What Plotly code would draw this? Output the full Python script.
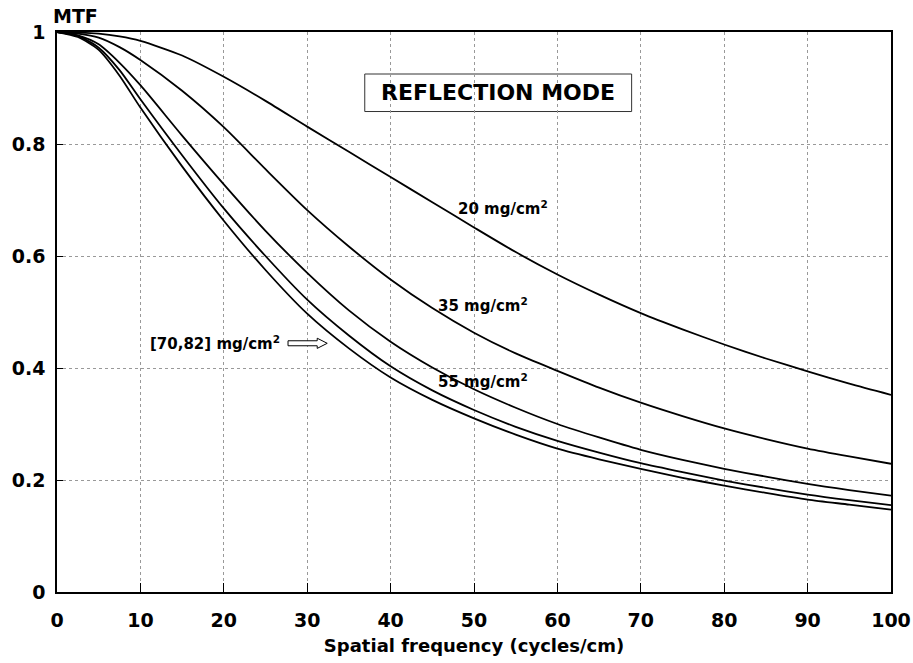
import plotly.graph_objects as go

# Spatial frequency (cycles/cm)
freq = [0, 2.5, 5, 7.5, 10, 15, 20, 25, 30, 35, 40, 45, 50, 55, 60, 65, 70, 75, 80, 85, 90, 95, 100]

# MTF values, one list per coating weight
mtf_20 = [1.0, 0.999, 0.997, 0.992, 0.984, 0.958, 0.920, 0.877, 0.831, 0.786, 0.741, 0.696, 0.651,
          0.607, 0.567, 0.531, 0.498, 0.469, 0.442, 0.417, 0.394, 0.372, 0.352]
mtf_35 = [1.0, 0.997, 0.990, 0.973, 0.950, 0.895, 0.830, 0.755, 0.682, 0.617, 0.558, 0.507, 0.463,
          0.426, 0.395, 0.365, 0.338, 0.314, 0.292, 0.273, 0.256, 0.242, 0.229]
mtf_55 = [1.0, 0.994, 0.978, 0.945, 0.905, 0.815, 0.728, 0.645, 0.570, 0.503, 0.447, 0.401, 0.362,
          0.329, 0.300, 0.276, 0.254, 0.236, 0.220, 0.206, 0.193, 0.182, 0.172]
mtf_70 = [1.0, 0.993, 0.972, 0.932, 0.880, 0.780, 0.685, 0.600, 0.522, 0.458, 0.403, 0.360, 0.325,
          0.295, 0.270, 0.249, 0.230, 0.214, 0.199, 0.186, 0.174, 0.164, 0.155]
mtf_82 = [1.0, 0.991, 0.968, 0.922, 0.865, 0.760, 0.663, 0.575, 0.497, 0.435, 0.383, 0.343, 0.310,
          0.281, 0.256, 0.237, 0.220, 0.204, 0.190, 0.177, 0.165, 0.156, 0.147]

series_names = ["20 mg/cm2", "35 mg/cm2", "55 mg/cm2", "70 mg/cm2", "82 mg/cm2"]
series_vals = [mtf_20, mtf_35, mtf_55, mtf_70, mtf_82]

x_ticks = [0, 10, 20, 30, 40, 50, 60, 70, 80, 90, 100]
y_ticks = [0, 0.2, 0.4, 0.6, 0.8, 1.0]
y_tick_text = ["0", "0.2", "0.4", "0.6", "0.8", "1"]

FONT = "DejaVu Sans"

fig = go.Figure()
for name, vals in zip(series_names, series_vals):
    fig.add_trace(go.Scatter(
        x=freq, y=vals, mode="lines", name=name,
        line=dict(color="black", width=1.8, shape="spline", smoothing=0.7),
        showlegend=False, hoverinfo="skip",
    ))

lbl_font = dict(family=FONT, size=15, color="black", weight="bold")
annotations = [
    dict(x=47.8, y=0.685, text="20 mg/cm<sup>2</sup>", xanchor="left", yanchor="middle",
         showarrow=False, font=lbl_font),
    dict(x=45.4, y=0.512, text="35 mg/cm<sup>2</sup>", xanchor="left", yanchor="middle",
         showarrow=False, font=lbl_font),
    dict(x=45.4, y=0.377, text="55 mg/cm<sup>2</sup>", xanchor="left", yanchor="middle",
         showarrow=False, font=lbl_font),
    dict(x=10.9, y=0.444, text="[70,82] mg/cm<sup>2</sup>", xanchor="left", yanchor="middle",
         showarrow=False, font=lbl_font),
    dict(x=38.6, y=0.892, text="REFLECTION MODE", xanchor="left", yanchor="middle",
         showarrow=False, font=dict(family=FONT, size=22, color="black", weight="bold")),
    dict(xref="paper", yref="paper", x=0, y=1, xshift=-6, yshift=3, text="MTF",
         xanchor="left", yanchor="bottom", showarrow=False,
         font=dict(family=FONT, size=19, color="black", weight="bold")),
]

# hollow arrow pointing at the [70,82] curves
arrow_path = ("M 27.7,0.4397 L 31.2,0.4397 L 31.2,0.4350 L 32.4,0.4441 "
              "L 31.2,0.4532 L 31.2,0.4486 L 27.7,0.4486 Z")

fig.update_layout(
    width=913, height=663,
    margin=dict(l=57, r=22, t=32, b=71),
    paper_bgcolor="white", plot_bgcolor="white",
    font=dict(family=FONT, color="black"),
    annotations=annotations,
    shapes=[
        dict(type="path", path=arrow_path, xref="x", yref="y",
             line=dict(color="black", width=1), fillcolor="white"),
        dict(type="rect", xref="x", yref="y", x0=36.9, x1=68.9, y0=0.858, y1=0.925,
             line=dict(color="#333", width=1), fillcolor="white", layer="below"),
    ],
    xaxis=dict(
        range=[0, 100], tickvals=x_ticks, ticks="inside", ticklen=9, tickwidth=1.2,
        tickcolor="black", showline=True, linecolor="black", linewidth=1.5, mirror=True,
        showgrid=True, gridcolor="#999999", gridwidth=1, griddash="dot", zeroline=False,
        tickfont=dict(family=FONT, size=19, color="black", weight="bold"),
        ticklabelstandoff=10, automargin=False,
        title=dict(text="Spatial frequency (cycles/cm)", standoff=10,
                   font=dict(family=FONT, size=18, color="black", weight="bold")),
    ),
    yaxis=dict(
        range=[0, 1], tickvals=y_ticks, ticktext=y_tick_text, ticks="inside", ticklen=6,
        tickwidth=1.2, tickcolor="black", showline=True, linecolor="black", linewidth=1.5,
        mirror=True, showgrid=True, gridcolor="#999999", gridwidth=1, griddash="dot",
        zeroline=False, ticklabelstandoff=6, automargin=False,
        tickfont=dict(family=FONT, size=19, color="black", weight="bold"),
    ),
)

fig.write_html("out.html")
